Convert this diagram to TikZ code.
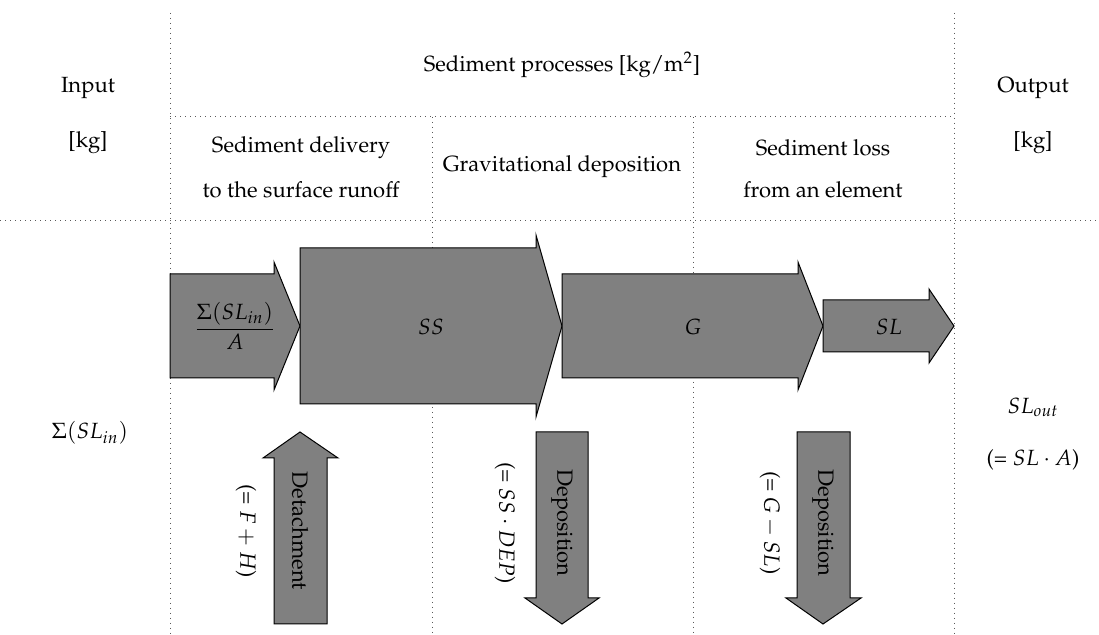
\documentclass[tikz,border=0pt]{standalone}
\usepackage[T1]{fontenc}
\usepackage{mathpazo}
\begin{document}
\begin{tikzpicture}[x=0.5pt,y=-0.5pt,
  every node/.style={font=\fontsize{11}{13.2}\selectfont, inner sep=0pt},
  grid/.style={dotted, line width=0.5pt, black!65},
  flow/.style={fill=black!50, draw=black, line width=0.5pt, line join=miter},
  vlabel/.style={rotate=-90}]
\useasboundingbox (0,0) rectangle (1099,635);
% grid
\coordinate (vl0) at (170,13);  \coordinate (vl1) at (170,635);
\coordinate (vr0) at (954,13);  \coordinate (vr1) at (954,635);
\coordinate (va0) at (432,117); \coordinate (va1) at (432,635);
\coordinate (vb0) at (693,117); \coordinate (vb1) at (693,635);
\coordinate (h10) at (170,117); \coordinate (h11) at (954,117);
\coordinate (h20) at (0,221);   \coordinate (h21) at (1099,221);
\draw[grid] (vl0) -- (vl1);
\draw[grid] (vr0) -- (vr1);
\draw[grid] (va0) -- (va1);
\draw[grid] (vb0) -- (vb1);
\draw[grid] (h10) -- (h11);
\draw[grid] (h20) -- (h21);
% header texts
\node (input) at (88,88) {Input};
\node (inunit) at (88,143) {[kg]};
\node (proc) at (562,65) {Sediment processes [kg/m$^2$]};
\node (output) at (1033,88) {Output};
\node (outunit) at (1033,143) {[kg]};
\node (del1) at (301,148) {Sediment delivery};
\node (del2) at (301,190) {to the surface runoff};
\node (grav) at (562,167) {Gravitational deposition};
\node (loss1) at (823,148) {Sediment loss};
\node (loss2) at (823,190) {from an element};
% horizontal flow arrows
\fill[flow] (170,274) -- (274,274) -- (274,262) -- (300,326) -- (274,390) -- (274,378) -- (170,378) -- cycle;
\fill[flow] (300,248) -- (536,248) -- (536,235) -- (562,326) -- (536,417) -- (536,404) -- (300,404) -- cycle;
\fill[flow] (562,274) -- (798,274) -- (798,262) -- (823,326) -- (798,390) -- (798,378) -- (562,378) -- cycle;
\fill[flow] (823,300) -- (929,300) -- (929,289) -- (954,326) -- (929,363) -- (929,352) -- (823,352) -- cycle;
\node (ain) at (235,326) {$\displaystyle\frac{\Sigma(SL_{in})}{A}$};
\node (ss) at (431,327) {$SS$};
\node (g) at (693,327) {$G$};
\node (sl) at (889,327) {$SL$};
% vertical flow arrows
\fill[flow] (274,624) -- (274,458) -- (263,458) -- (300,432) -- (338,458) -- (327,458) -- (327,624) -- cycle;
\fill[flow] (536,432) -- (536,598) -- (525,598) -- (562,624) -- (599,598) -- (588,598) -- (588,432) -- cycle;
\fill[flow] (797,432) -- (797,598) -- (786,598) -- (823,624) -- (861,598) -- (850,598) -- (850,432) -- cycle;
\node[vlabel] (det) at (300,531) {Detachment};
\node[vlabel] (detf) at (246,531) {(= $F+H$)};
\node[vlabel] (dep1) at (562,523) {Deposition};
\node[vlabel] (dep1f) at (505,523) {(= $SS\cdot DEP$)};
\node[vlabel] (dep2) at (823,523) {Deposition};
\node[vlabel] (dep2f) at (770,523) {(= $G-SL$)};
% input / output values
\node (sin) at (90,433) {$\Sigma(SL_{in})$};
\node (sout) at (1033,407) {$SL_{out}$};
\node (soutf) at (1033,460) {(= $SL\cdot A$)};
\end{tikzpicture}
\end{document}
